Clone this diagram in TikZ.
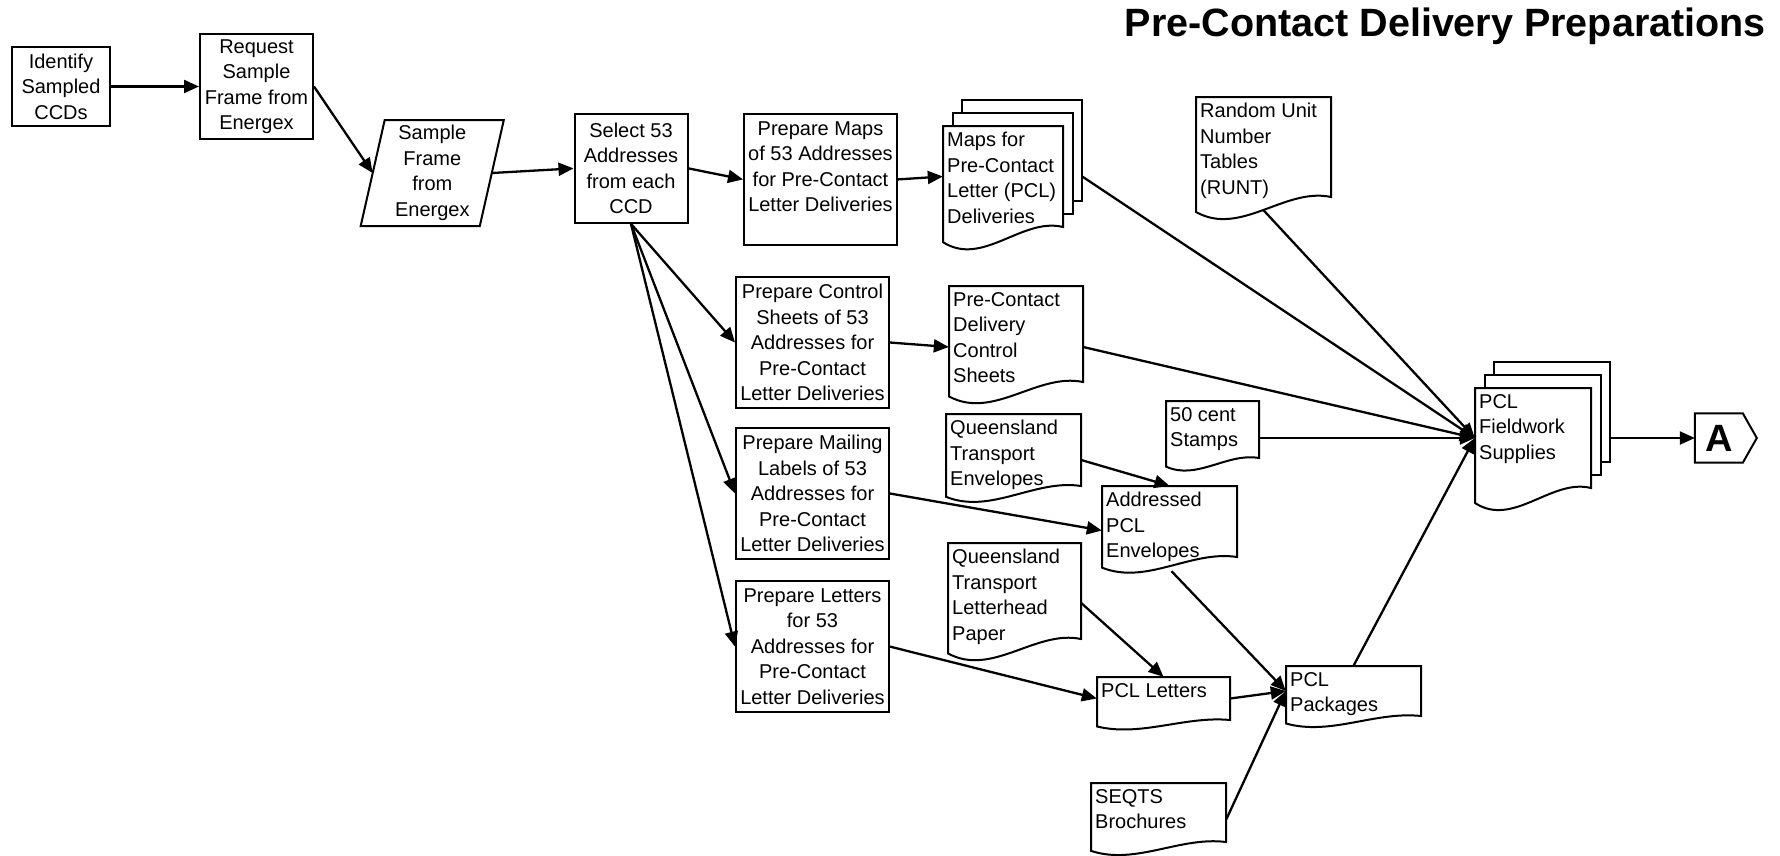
\documentclass[tikz,border=0pt]{standalone}
\usepackage{fontspec}
\setmainfont{Liberation Sans}
\usetikzlibrary{arrows.meta,calc}

\newcommand\boxfont{\fontsize{20}{25.5}\selectfont}

% outline of a document symbol: top-left (x0,y0), right edge ends at yR, wavy bottom
\newcommand\docpath[4]{(#1,#2) -- (#1,{#4+0.15*(#4-#2)}) .. controls ({#1+0.33*(#3-#1)},{#4+0.40*(#4-#2)}) and ({#1+0.66*(#3-#1)},{#4-0.10*(#4-#2)}) .. (#3,#4) -- (#3,#2) -- cycle}

% document symbol with a named anchor node and top-left text
\newcommand\docbox[6]{%
  \fill[white] \docpath{#2}{#3}{#4}{#5};
  \node[docarea, minimum width={(#4-#2)*1pt}, minimum height={(#5-#3)*1pt}] (#1) at ({(#2+#4)/2},{(#3+#5)/2}) {};
  \begin{scope}
    \clip \docpath{#2}{#3}{#4}{#5};
    \node[doctext] (#1-t) at (#2,#3) {#6};
  \end{scope}
  \draw[shapeline] \docpath{#2}{#3}{#4}{#5};
}

% two sheets stacked behind a document symbol
\newcommand\sheetstack[4]{%
  \draw[shapeline, fill=white] ({#1+19},{#2-26}) rectangle ({#3+19},{#4-26});
  \draw[shapeline, fill=white] ({#1+9.5},{#2-13}) rectangle ({#3+9.5},{#4-13});
}

\tikzset{
  shapeline/.style={line width=2pt, line join=miter},
  procbox/.style={draw, shapeline, align=center, inner sep=0pt, font=\boxfont},
  docarea/.style={draw=none, inner sep=0pt},
  doctext/.style={anchor=north west, align=left, inner xsep=4pt, inner ysep=6pt, font=\boxfont},
  arr/.style={line width=2.3pt, -{Triangle[length=15pt,width=13pt]}},
  link/.style={line width=2.3pt}
}

\begin{document}
\begin{tikzpicture}[x=1pt,y=-1pt]
\fill[white] (0,0) rectangle (1780,855);
\useasboundingbox (0,0) rectangle (1780,855);

% title
\node[anchor=base east, inner sep=0pt, font=\fontsize{39.5}{44}\bfseries\selectfont] (title) at (1766,36.5) {Pre-Contact Delivery Preparations};

% process steps
\node[procbox, minimum width=98pt, minimum height=79pt] (identify) at (61,86.5) {Identify\\Sampled\\CCDs};
\node[procbox, minimum width=113pt, minimum height=105pt] (request) at (256.5,86.5) {Request\\Sample\\Frame from\\Energex};

% data (parallelogram)
\draw[shapeline, fill=white] (384.7,120) -- (503.8,120) -- (479.8,226) -- (360.7,226) -- cycle;
\node[align=center, inner sep=0pt, minimum width=119pt, minimum height=106pt, font=\boxfont] (sf) at (432.3,173) {Sample\\Frame\\from\\Energex};

\node[procbox, minimum width=113pt, minimum height=109pt] (select) at (631,168.4) {Select 53\\Addresses\\from each\\CCD};
\node[procbox, minimum width=153pt, minimum height=131pt] (mprep) at (820.5,179.4) {Prepare Maps\\of 53 Addresses\\for Pre-Contact\\Letter Deliveries\\\mbox{}};
\node[procbox, minimum width=153pt, minimum height=131pt] (cprep) at (812.5,342.5) {Prepare Control\\Sheets of 53\\Addresses for\\Pre-Contact\\Letter Deliveries};
\node[procbox, minimum width=153pt, minimum height=131pt] (lprep) at (812.5,493.5) {Prepare Mailing\\Labels of 53\\Addresses for\\Pre-Contact\\Letter Deliveries};
\node[procbox, minimum width=153pt, minimum height=131pt] (tprep) at (812.5,646.6) {Prepare Letters\\for 53\\Addresses for\\Pre-Contact\\Letter Deliveries};

% documents
\sheetstack{943}{126}{1063}{227}
\docbox{maps}{943}{126}{1063}{227}{Maps for\\Pre-Contact\\Letter (PCL)\\Deliveries}
\docbox{ctl}{949}{286}{1083}{382}{Pre-Contact\\Delivery\\Control\\Sheets}
\docbox{runt}{1196}{97}{1331}{197}{Random Unit\\Number\\Tables\\(RUNT)}
\docbox{qtenv}{946}{414}{1081}{486}{Queensland\\Transport\\Envelopes}
\docbox{stamps}{1166}{401}{1259}{458}{50 cent\\Stamps}
\docbox{addr}{1102}{486}{1237}{557}{Addressed\\PCL\\Envelopes}
\docbox{qtlh}{948}{543}{1081}{639}{Queensland\\Transport\\Letterhead\\Paper}
\docbox{letters}{1097}{677}{1230}{720}{PCL Letters}
\docbox{pack}{1286}{666}{1421}{716}{PCL\\Packages}
\docbox{seqts}{1091}{783}{1226}{842}{SEQTS\\Brochures}
\sheetstack{1475}{388}{1591}{488}
\docbox{fw}{1475}{388}{1591}{488}{PCL\\Fieldwork\\Supplies}

% off-page connector
\node[inner sep=0pt, minimum width=47.6pt, minimum height=49pt, font=\fontsize{38}{40}\bfseries\selectfont] (A) at (1718.8,438) {A};
\draw[shapeline] (A.north west) -- (A.north east) -- ($(A.east)+(14,0)$) -- (A.south east) -- (A.south west) -- cycle;

% connectors
\draw[arr] (identify.east) -- (request.west);
\draw[arr] (request.east) -- (sf.west);
\draw[arr] (sf.east) -- (select.west);
\draw[arr] (select.east) -- (mprep.west);
\draw[arr] (mprep.east) -- (maps.west);
\draw[arr] (select.south) -- (cprep.west);
\draw[arr] (select.south) -- (lprep.west);
\draw[arr] (select.south) -- (tprep.west);
\draw[arr] (cprep.east) -- ($(ctl.west)+(0,13)$);

\draw[arr] ($(maps.east)+(19,0)$) -- (fw.west);
\draw[arr] ($(ctl.east)+(0,13)$) -- (fw.west);
\draw[arr] ($(runt.south)+(0,13)$) -- (fw.west);
\draw[arr] (stamps.east |- fw.west) -- (fw.west);
\draw[arr] (pack.north) -- (fw.west);

\draw[arr] ($(qtenv.east)+(0,10)$) -- (addr.north);
\draw[arr] (lprep.east) -- ($(addr.west)+(0,9)$);
\draw[arr] ($(addr.south)+(2,14)$) -- (pack.west);
\draw[arr] ($(qtlh.east)+(0,12)$) -- (letters.north);
\draw[arr] (tprep.east) -- (letters.west);
\draw[arr] (letters.east) -- (pack.west);
\draw[arr] ($(seqts.east)+(0,7)$) -- (pack.west);

\draw[arr] ($(fw.east)+(19,0)$) -- (A.west);
\end{tikzpicture}
\end{document}
